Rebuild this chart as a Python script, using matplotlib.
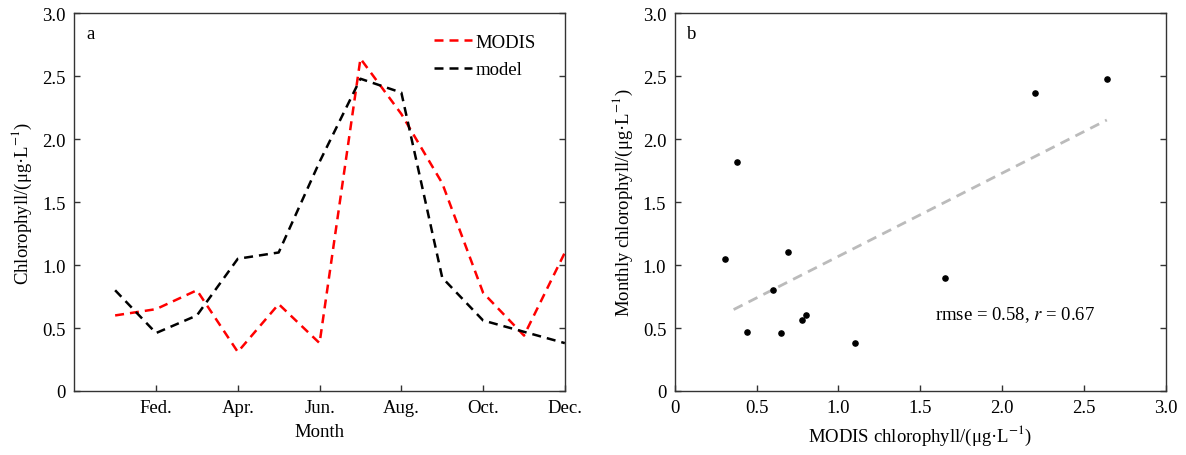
import matplotlib
matplotlib.use("Agg")
import matplotlib.pyplot as plt
import numpy as np

plt.rcParams['font.family'] = ['Liberation Serif', 'DejaVu Serif']
plt.rcParams['mathtext.fontset'] = 'stix'

# Monthly chlorophyll (ug/L), Jan..Dec
months = [1, 2, 3, 4, 5, 6, 7, 8, 9, 10, 11, 12]
modis = [0.60, 0.65, 0.80, 0.31, 0.69, 0.38, 2.64, 2.20, 1.65, 0.78, 0.44, 1.10]
model = [0.80, 0.46, 0.60, 1.05, 1.10, 1.82, 2.48, 2.37, 0.90, 0.56, 0.47, 0.38]

month_ticks = [2, 4, 6, 8, 10, 12]
month_labels = ['Fed.', 'Apr.', 'Jun.', 'Aug.', 'Oct.', 'Dec.']
y_ticks = [0, 0.5, 1.0, 1.5, 2.0, 2.5, 3.0]
y_labels = ['0', '0.5', '1.0', '1.5', '2.0', '2.5', '3.0']

unit = '/(μg·L$^{-1}$)'

fig = plt.figure(figsize=(11.86, 4.56), dpi=100)
ax1 = fig.add_axes([0.0626, 0.1404, 0.4137, 0.8283])
ax2 = fig.add_axes([0.5689, 0.1404, 0.4140, 0.8283])

fs = 13.5
spine_col = '#333333'
dash = (0, (3.6, 2.4))

def style(ax):
    for s in ax.spines.values():
        s.set_color(spine_col)
        s.set_linewidth(1.0)
    ax.tick_params(direction='in', length=4, width=1, color=spine_col,
                   labelsize=fs, right=True, top=False, pad=6)
    ax.set_ylim(0, 3.0)
    ax.set_yticks(y_ticks)
    ax.set_yticklabels(y_labels)

# panel a: time series
ax1.plot(months, modis, color='red', ls=dash, lw=1.8, label='MODIS')
ax1.plot(months, model, color='black', ls=dash, lw=1.8, label='model')
style(ax1)
ax1.set_xlim(0, 12)
ax1.set_xticks(month_ticks)
ax1.set_xticklabels(month_labels)
ax1.set_xlabel('Month', fontsize=fs, labelpad=5)
ax1.set_ylabel('Chlorophyll' + unit, fontsize=fs, labelpad=6)
ax1.text(0.025, 0.97, 'a', transform=ax1.transAxes, fontsize=fs, va='top')
ax1.legend(loc='upper right', frameon=False, fontsize=fs, handlelength=2.0,
           handletextpad=0.2, borderaxespad=0.5, labelspacing=0.55,
           bbox_to_anchor=(0.975, 0.99))

# panel b: scatter with linear fit
x = np.array(modis)
y = np.array(model)
k, b = np.polyfit(x, y, 1)
xf = np.array([0.36, x.max()])
ax2.plot(xf, k * xf + b, color='#bbbbbb', ls=dash, lw=2.0)
ax2.scatter(x, y, s=14, color='black', zorder=3)
style(ax2)
ax2.set_xlim(0, 3.0)
ax2.set_xticks(y_ticks)
ax2.set_xticklabels(y_labels)
ax2.set_xlabel('MODIS chlorophyll' + unit, fontsize=fs, labelpad=5)
ax2.set_ylabel('Monthly chlorophyll' + unit, fontsize=fs, labelpad=6)
ax2.text(0.025, 0.97, 'b', transform=ax2.transAxes, fontsize=fs, va='top')
ax2.text(1.59, 0.61, 'rmse = 0.58, $r$ = 0.67', fontsize=fs, va='center')

fig.savefig('out.png', dpi=100)
